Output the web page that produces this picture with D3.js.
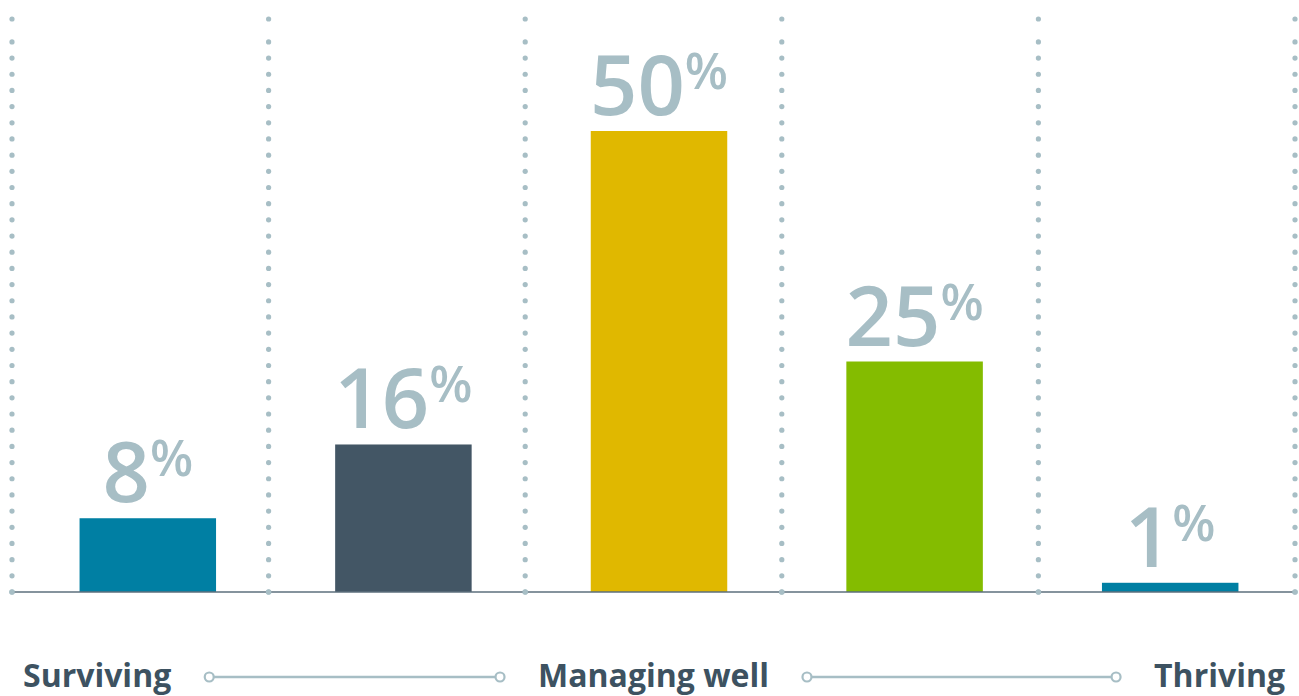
<!DOCTYPE html>
<html>
<head>
<meta charset="utf-8">
<script src="https://cdn.jsdelivr.net/npm/d3@7"></script>
<style>
  html, body { margin: 0; padding: 0; background: #ffffff; }
  svg { display: block; }
</style>
</head>
<body>
<svg id="chart" width="1299" height="696"></svg>
<script>
// Share of respondents in each wellbeing group
const categories = ["g1", "g2", "g3", "g4", "g5"];
const values = [8, 16, 50, 25, 1];
const barColors = ["#007fa3", "#435665", "#e0b800", "#84bc00", "#007fa3"];
// Scale labels along the bottom
const scaleLabels = ["Surviving", "Managing well", "Thriving"];

const baseY = 592, topY = 131;
const svg = d3.select("#chart");

const labelColor = "#a7bec5";
const dotColor = "#a7bec5";
const axisColor = "#5c6f7c";
const textColor = "#3d5261";

// Column grid (dotted separators) and bar positions
const grid = d3.scaleBand().domain(categories).range([12, 1295]).padding(0);
const x = d3.scaleBand().domain(categories).range([20, 1298]).paddingInner(0.466).paddingOuter(0.233);
const y = d3.scaleLinear().domain([0, d3.max(values)]).range([baseY, topY]);

// Dotted vertical separators
const sepXs = categories.map(c => grid(c)).concat([grid.range()[1]]);
const step = 16.18;
const dotYs = d3.range(baseY, 40, -step).concat([19]);
const sep = svg.append("g").attr("class", "separators");
sepXs.forEach(sx => {
  sep.selectAll(null)
    .data(dotYs)
    .join("circle")
    .attr("cx", sx)
    .attr("cy", d => d)
    .attr("r", 2.6)
    .attr("fill", dotColor);
});

// Bars
svg.append("g").selectAll("rect")
  .data(values)
  .join("rect")
  .attr("x", (d, i) => x(categories[i]))
  .attr("width", x.bandwidth())
  .attr("y", d => y(d))
  .attr("height", d => baseY - y(d))
  .attr("fill", (d, i) => barColors[i]);

// Baseline
svg.append("line")
  .attr("x1", 12).attr("x2", 1296)
  .attr("y1", baseY).attr("y2", baseY)
  .attr("stroke", axisColor)
  .attr("stroke-width", 1.6);

// Bottom dots sit on top of the baseline
sepXs.forEach(sx => {
  svg.append("circle").attr("cx", sx).attr("cy", baseY).attr("r", 2.8).attr("fill", dotColor);
});

// Value labels
const lbl = svg.append("g").selectAll("text")
  .data(values)
  .join("text")
  .attr("x", (d, i) => x(categories[i]) + x.bandwidth() / 2)
  .attr("y", d => y(d) - 16)
  .attr("text-anchor", "middle")
  .attr("fill", labelColor)
  .attr("font-family", "'Open Sans', sans-serif")
  .attr("font-weight", 600);
lbl.append("tspan")
  .attr("font-size", 83)
  .text(d => d);
lbl.append("tspan")
  .attr("font-size", 50)
  .attr("dy", -26)
  .text("%");

// Scale labels with connectors
const scaleY = 687;
const anchors = ["start", "middle", "end"];
const scaleXs = [23, grid("g3") + grid.bandwidth() / 2, 1285];
const texts = svg.append("g").selectAll("text")
  .data(scaleLabels)
  .join("text")
  .attr("x", (d, i) => scaleXs[i])
  .attr("y", scaleY)
  .attr("text-anchor", (d, i) => anchors[i])
  .attr("fill", textColor)
  .attr("font-family", "'Open Sans', sans-serif")
  .attr("font-weight", 700)
  .attr("font-size", 32)
  .text(d => d);

const boxes = texts.nodes().map(n => n.getBBox());
const gap = 38, cy = 677;
for (let i = 0; i < boxes.length - 1; i++) {
  const x1 = boxes[i].x + boxes[i].width + gap;
  const x2 = boxes[i + 1].x - gap;
  const g = svg.append("g");
  g.append("line")
    .attr("x1", x1).attr("x2", x2)
    .attr("y1", cy).attr("y2", cy)
    .attr("stroke", labelColor).attr("stroke-width", 2.5);
  [x1, x2].forEach(cx => {
    g.append("circle")
      .attr("cx", cx).attr("cy", cy).attr("r", 4.5)
      .attr("fill", "#ffffff")
      .attr("stroke", labelColor).attr("stroke-width", 2.2);
  });
}
</script>
</body>
</html>
